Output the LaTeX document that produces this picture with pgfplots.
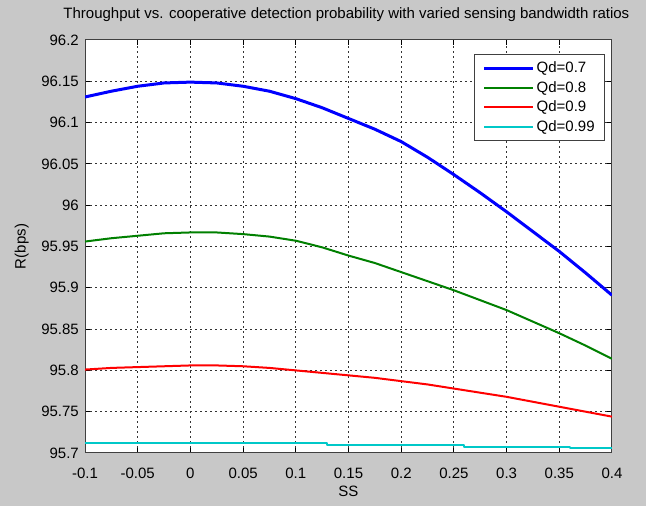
\documentclass[border=0pt]{standalone}
\usepackage{fontspec}
\setmainfont{Liberation Sans}
\usepackage{pgfplots}
\pgfplotsset{compat=1.18}
\definecolor{bggray}{RGB}{200,200,200}
\definecolor{mblue}{RGB}{0,0,255}
\definecolor{mgreen}{RGB}{0,128,0}
\definecolor{mred}{RGB}{255,0,0}
\definecolor{mcyan}{RGB}{0,200,200}
\begin{document}
\fontsize{15}{17}\selectfont
\begin{tikzpicture}[font=\fontsize{15}{17}\selectfont]
\fill[bggray] (0,0) rectangle (646pt,506pt);
\begin{axis}[
  at={(85pt,53pt)}, anchor=south west,
  scale only axis, width=527pt, height=413pt,
  xmin=-0.1, xmax=0.4, ymin=95.7, ymax=96.2,
  axis background/.style={fill=white},
  xtick={-0.1,-0.05,0,0.05,0.1,0.15,0.2,0.25,0.3,0.35,0.4},
  xticklabels={-0.1,-0.05,0,0.05,0.1,0.15,0.2,0.25,0.3,0.35,0.4},
  ytick={95.7,95.75,95.8,95.85,95.9,95.95,96,96.05,96.1,96.15,96.2},
  yticklabels={95.7,95.75,95.8,95.85,95.9,95.95,96,96.05,96.1,96.15,96.2},
  tick align=inside, major tick length=5pt,
  tick style={black, line width=1pt},
  axis line style={black!75, line width=1pt},
  grid=major,
  major grid style={black!80, line width=1pt, dash pattern=on 2pt off 3pt},
  xticklabel style={yshift=-10pt},
  yticklabel style={xshift=-1pt},
  title={Throughput vs. cooperative detection probability with varied sensing bandwidth ratios},
  title style={at={(axis description cs:0.496,1.048)}, anchor=center, yshift=0pt},
  xlabel={SS},
  xlabel style={at={(axis description cs:0.5,-0.094)}, anchor=center, yshift=0pt},
  ylabel={R(bps)},
  ylabel style={at={(axis description cs:-0.12,0.5)}, anchor=center},
  legend style={at={(rel axis cs:0.987,0.966)}, anchor=north east, draw=black!75, line width=1pt,
    fill=white, font=\fontsize{15}{17}\selectfont, row sep=2.5pt, inner xsep=8pt, inner ysep=5pt},
  legend cell align=left,
  legend image code/.code={\draw[#1] (0pt,0pt) -- (49pt,0pt);},
  every axis plot/.append style={line join=round},
]
\addplot[draw=mblue, line width=3pt] coordinates {
(-0.1,96.131) (-0.075,96.138) (-0.05,96.144) (-0.025,96.148) (0,96.149) (0.025,96.148)
(0.05,96.144) (0.075,96.138) (0.1,96.129) (0.125,96.118) (0.15,96.105) (0.175,96.092)
(0.2,96.077) (0.225,96.058) (0.25,96.037) (0.275,96.015) (0.3,95.992) (0.325,95.968)
(0.35,95.944) (0.375,95.918) (0.4,95.891)};
\addlegendentry{Qd=0.7}
\addplot[draw=mgreen, line width=2pt] coordinates {
(-0.1,95.956) (-0.075,95.960) (-0.05,95.963) (-0.025,95.966) (0,95.967) (0.025,95.967)
(0.05,95.965) (0.075,95.962) (0.1,95.957) (0.125,95.949) (0.15,95.939) (0.175,95.930)
(0.2,95.919) (0.225,95.908) (0.25,95.897) (0.275,95.885) (0.3,95.873) (0.325,95.859)
(0.35,95.845) (0.375,95.830) (0.4,95.814)};
\addlegendentry{Qd=0.8}
\addplot[draw=mred, line width=2pt] coordinates {
(-0.1,95.801) (-0.075,95.803) (-0.05,95.804) (-0.025,95.805) (0,95.806) (0.025,95.806)
(0.05,95.805) (0.075,95.803) (0.1,95.800) (0.125,95.797) (0.15,95.794) (0.175,95.791)
(0.2,95.787) (0.225,95.783) (0.25,95.778) (0.275,95.773) (0.3,95.768) (0.325,95.762)
(0.35,95.756) (0.375,95.750) (0.4,95.744)};
\addlegendentry{Qd=0.9}
\addplot[draw=mcyan, line width=2pt, const plot] coordinates {
(-0.1,95.7115) (0.13,95.7100) (0.26,95.7078) (0.36,95.7060) (0.4,95.7060)};
\addlegendentry{Qd=0.99}
\end{axis}
\end{tikzpicture}
\end{document}
